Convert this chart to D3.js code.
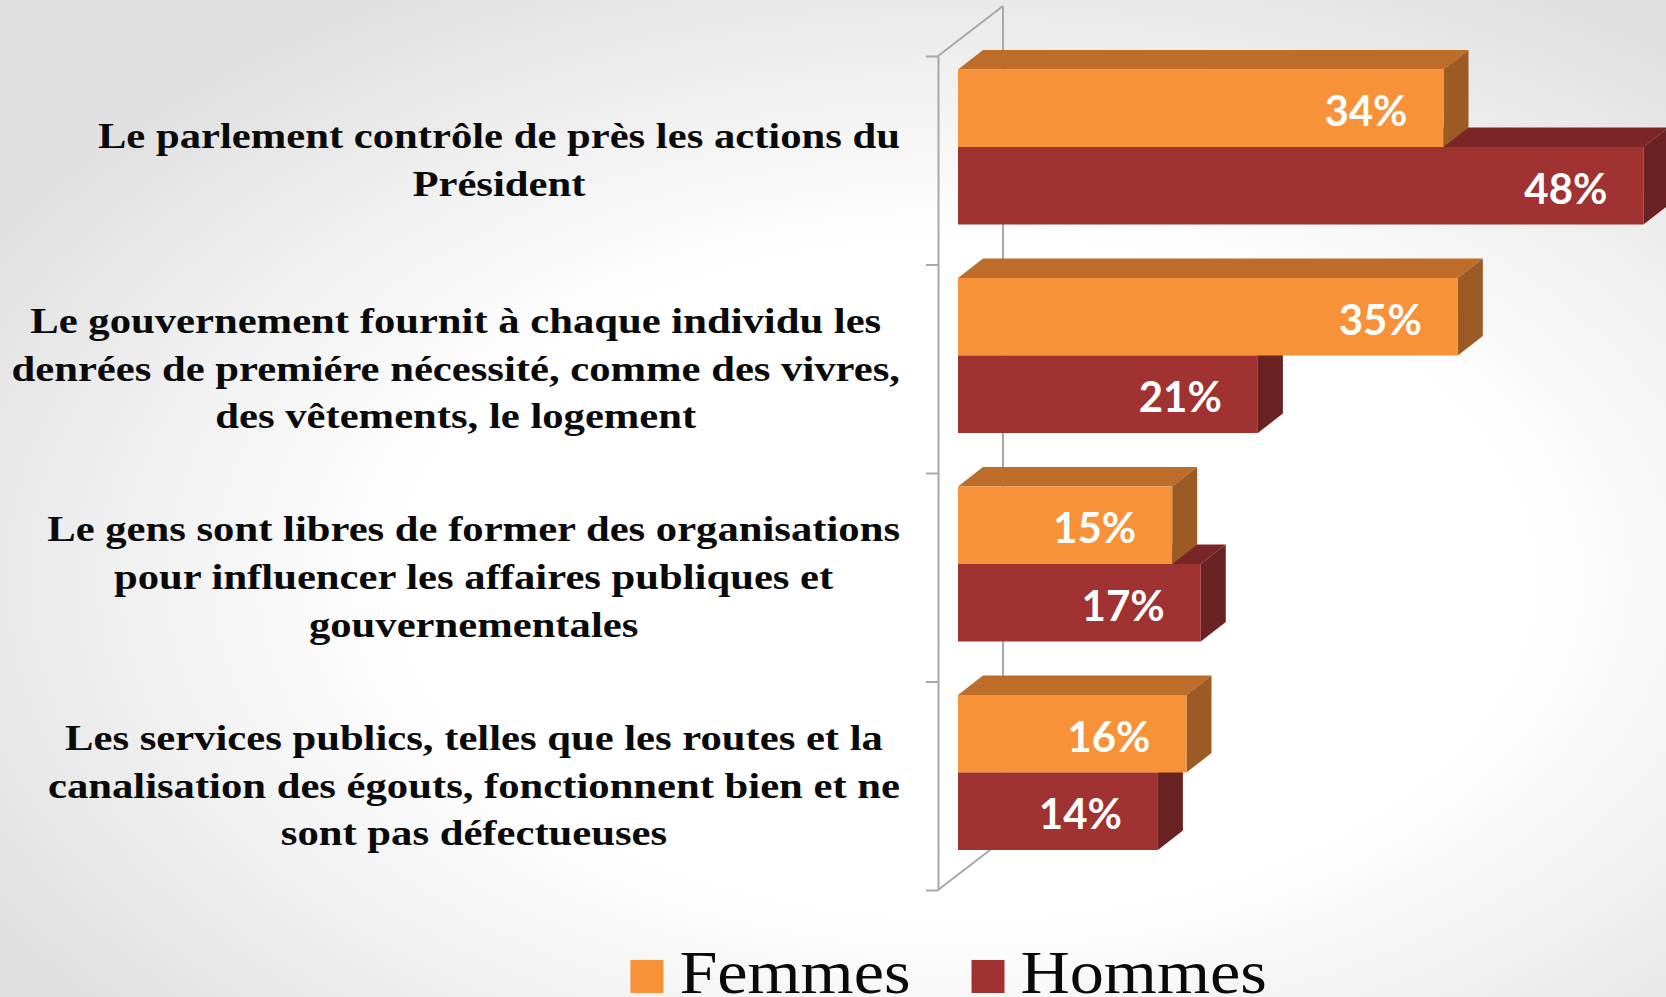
<!DOCTYPE html>
<html>
<head>
<meta charset="utf-8">
<script src="https://cdn.jsdelivr.net/npm/d3@7"></script>
<style>
  html, body { margin: 0; padding: 0; }
  body { width: 1666px; height: 997px; overflow: hidden; }
</style>
</head>
<body>
<svg id="chart" width="1666" height="997"></svg>
<script>
// ---- data ----
const categories = [
  ["Le parlement contrôle de près les actions du", "Président"],
  ["Le gouvernement fournit à chaque individu les", "denrées de premiére nécessité, comme des vivres,", "des vêtements, le logement"],
  ["Le gens sont libres de former des organisations", "pour influencer les affaires publiques et", "gouvernementales"],
  ["Les services publics, telles que les routes et la", "canalisation des égouts, fonctionnent bien et ne", "sont pas défectueuses"]
];
const seriesNames = ["Femmes", "Hommes"];
const femmes = [34, 35, 15, 16];
const hommes = [48, 21, 17, 14];
const valueDomain = [0, 50];

// ---- layout ----
const W = 1666, H = 997;
const svg = d3.select("#chart");
const defs = svg.append("defs");
const grad = defs.append("radialGradient").attr("id", "bg")
  .attr("cx", "58%").attr("cy", "58%").attr("r", "68%");
grad.append("stop").attr("offset", "0.5").attr("stop-color", "#ffffff");
grad.append("stop").attr("offset", "1").attr("stop-color", "#e0e0e0");
svg.append("rect").attr("width", W).attr("height", H).attr("fill", "url(#bg)");

const plotTop = 56, plotBottom = 890;
const axisX = 938;
const wallDx = 65, wallDy = -50;
const barDx = 25, barDy = -19.5;

const x = d3.scaleLinear().domain(valueDomain).range([958, 958 + 14.28 * 50]);
const y = d3.scaleBand().domain(d3.range(categories.length)).range([plotTop, plotBottom]);
const ySub = d3.scaleBand().domain(seriesNames).range([13.5, 168.5]);

const colors = {
  Femmes: { front: "#F79239", top: "#BD6C2A", side: "#9C5A24" },
  Hommes: { front: "#A03232", top: "#7B2626", side: "#6A2222" }
};

// wall / axis
const wall = svg.append("g").attr("stroke", "#a8a8a8").attr("stroke-width", 2).attr("fill", "none");
wall.append("line").attr("x1", axisX + wallDx).attr("y1", plotTop + wallDy)
  .attr("x2", axisX + wallDx).attr("y2", plotBottom + wallDy);
wall.append("line").attr("x1", axisX).attr("y1", plotTop)
  .attr("x2", axisX + wallDx).attr("y2", plotTop + wallDy);
wall.append("line").attr("x1", axisX).attr("y1", plotBottom)
  .attr("x2", axisX + wallDx).attr("y2", plotBottom + wallDy);

const tickScale = d3.scaleLinear().domain([0, categories.length]).range([plotTop, plotBottom]);
const axisG = svg.append("g").attr("transform", `translate(${axisX},0)`)
  .call(d3.axisLeft(tickScale).ticks(categories.length).tickFormat("").tickSize(12).tickSizeOuter(0));
axisG.selectAll("path, line").attr("stroke", "#a8a8a8").attr("stroke-width", 2);

// bars
const data = categories.map((c, i) => ({ i, Femmes: femmes[i], Hommes: hommes[i] }));
const barsG = svg.append("g");
const drawOrder = ["Hommes", "Femmes"];
data.forEach(d => {
  drawOrder.forEach(s => {
    const v = d[s];
    const x0 = x(0), x1 = x(v);
    const y0 = y(d.i) + ySub(s), y1 = y0 + ySub.bandwidth();
    const c = colors[s];
    const g = barsG.append("g");
    g.append("path").attr("fill", c.top)
      .attr("d", `M${x0},${y0}L${x1},${y0}L${x1 + barDx},${y0 + barDy}L${x0 + barDx},${y0 + barDy}Z`);
    g.append("path").attr("fill", c.side)
      .attr("d", `M${x1},${y0}L${x1 + barDx},${y0 + barDy}L${x1 + barDx},${y1 + barDy}L${x1},${y1}Z`);
    g.append("rect").attr("fill", c.front)
      .attr("x", x0).attr("y", y0).attr("width", x1 - x0).attr("height", y1 - y0);
  });
});
// value labels
data.forEach(d => {
  seriesNames.forEach(s => {
    const v = d[s];
    const yc = y(d.i) + ySub(s) + ySub.bandwidth() / 2;
    svg.append("text")
      .attr("x", x(v) - 36).attr("y", yc + 2)
      .attr("text-anchor", "end").attr("dominant-baseline", "central")
      .attr("fill", "#ffffff").attr("font-family", "Lato, 'Open Sans', sans-serif")
      .attr("font-weight", 700).attr("font-size", 42)
      .text(v + "%");
  });
});

// category labels
const labelRight = 900, lineH = 47.8, sx = 1.185;
categories.forEach((lines, i) => {
  const cy = y(i) + y.bandwidth() / 2;
  const g = svg.append("g");
  const texts = lines.map((t, k) => g.append("text")
    .attr("text-anchor", "middle")
    .attr("y", (k - (lines.length - 1) / 2) * lineH)
    .attr("dy", "0.33em")
    .attr("font-family", "'Liberation Serif', 'Times New Roman', serif")
    .attr("font-weight", 700).attr("font-size", 36).attr("fill", "#0a0a0a")
    .text(t));
  const maxW = d3.max(texts, t => t.node().getComputedTextLength()) * sx;
  g.attr("transform", `translate(${labelRight - maxW / 2},${cy}) scale(${sx},1)`);
});

// legend
const legend = svg.append("g");
let lx = 630.4;
seriesNames.forEach(s => {
  legend.append("rect").attr("x", lx).attr("y", 960).attr("width", 33).attr("height", 33)
    .attr("fill", colors[s].front);
  const t = legend.append("text").attr("x", 0).attr("y", 0)
    .attr("font-family", "'Liberation Serif', 'Times New Roman', serif")
    .attr("font-size", 62).attr("fill", "#0a0a0a").text(s);
  const tw = t.node().getComputedTextLength() * 1.1;
  t.attr("transform", `translate(${lx + 49},992.5) scale(1.1,1)`);
  lx = lx + 49 + tw + 61;
});
</script>
</body>
</html>
